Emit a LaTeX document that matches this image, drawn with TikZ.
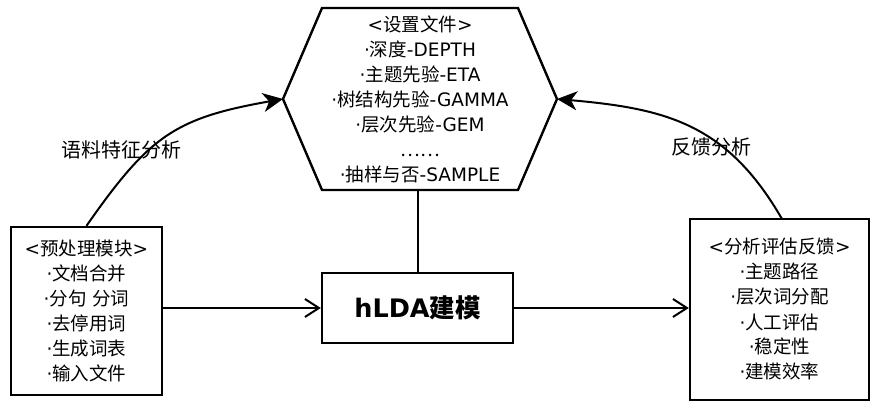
\documentclass[tikz,border=0pt]{standalone}
\usepackage{fontspec}
\setmainfont{Noto Sans CJK SC}
\newfontfamily\dvfont{DejaVu Sans}
\newcommand\La[1]{{\dvfont #1}}
\usetikzlibrary{arrows.meta,calc}
\begin{document}
\begin{tikzpicture}[x=1pt,y=1pt,
  line width=2pt,
  txt/.style={font=\fontsize{18.5}{25}\selectfont, align=center, inner sep=0pt},
  lbl/.style={font=\fontsize{20}{24}\selectfont, inner sep=0pt},
  box/.style={draw, line width=2.4pt, inner sep=0pt},
  fillarrow/.style={-{Stealth[length=20pt,width=19pt,inset=6pt]}},
  openarrow/.style={-{Straight Barb[length=14pt,width=18pt]}}]
\useasboundingbox (0,0) rectangle (870,401);

% hexagon (settings file)
\coordinate (hexTL) at (322,393);
\coordinate (hexTR) at (518,393);
\coordinate (hexR) at (557,302);
\coordinate (hexBR) at (518,211);
\coordinate (hexBL) at (322,211);
\coordinate (hexL) at (283,302);
\draw[line width=2.4pt, line join=miter] (hexTL) -- (hexTR) -- (hexR) -- (hexBR) -- (hexBL) -- (hexL) -- cycle;
\node[txt] (hex) at (420,302) {\La{<}设置文件\La{>}\\\La{·}深度\La{-DEPTH}\\\La{·}主题先验\La{-ETA}\\\La{·}树结构先验\La{-GAMMA}\\\La{·}层次先验\La{-GEM}\\……\\\La{·}抽样与否\La{-SAMPLE}};

% boxes
\node[box, txt, minimum width=151pt, minimum height=168pt] (pre) at (86.5,90)
  {\La{<}预处理模块\La{>}\\\La{·}文档合并\\\La{·}分句\La{ }分词\\\La{·}去停用词\\\La{·}生成词表\\\La{·}输入文件};
\node[box, minimum width=191pt, minimum height=70pt, font=\fontsize{25.5}{30}\selectfont\bfseries] (hlda) at (417.5,93) {\La{hLDA}建模};
\node[box, txt, minimum width=179pt, minimum height=181pt] (fb) at (779.5,91.5)
  {\La{<}分析评估反馈\La{>}\\\La{·}主题路径\\\La{·}层次词分配\\\La{·}人工评估\\\La{·}稳定性\\\La{·}建模效率};

% labels
\node[lbl] (l1) at (121,251) {语料特征分析};
\node[lbl] (l2) at (711,254) {反馈分析};

% connectors
\coordinate (hexB) at (hlda.north |- hexBL);
\draw (hexB) -- (hlda.north);
\draw[openarrow] (hlda.west -| pre.east) -- (hlda.west);
\draw[openarrow] (hlda.east) -- (hlda.east -| fb.west);
\draw[fillarrow] (pre.north) to[out=55,in=190,looseness=1.2] (hexL);
\coordinate (fbStart) at (782,182);
\draw[fillarrow] (fbStart) to[out=120,in=-5,looseness=1.1] (hexR);
\end{tikzpicture}
\end{document}
